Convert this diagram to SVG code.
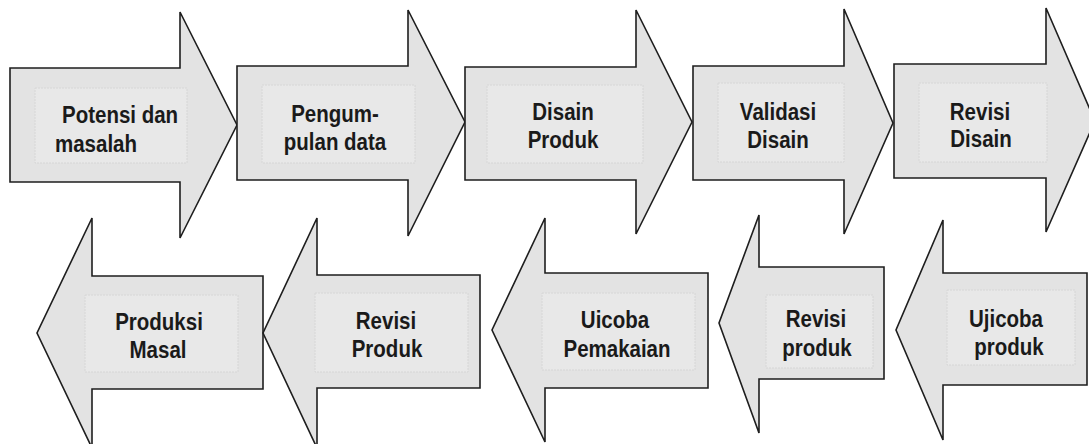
<svg xmlns="http://www.w3.org/2000/svg" width="1089" height="444" viewBox="0 0 1089 444">
<style>
.arrow{fill:#e3e3e3;stroke:#1e1e1e;stroke-width:1.6;stroke-linejoin:miter}
.inner{fill:#e8e8e8;stroke:#d6d6d6;stroke-width:1;stroke-dasharray:2 1}
.lbl{font-family:"Liberation Sans",Arial,sans-serif;font-weight:bold;font-size:20.5px;fill:#1a1a1a;text-anchor:middle}
.st{text-anchor:start}
</style>
<rect width="1089" height="444" fill="#ffffff"/>
<g id="connectors"></g>
<g id="n1">
<polygon class="arrow" points="10,68 180,68 180,12 237,125 180,238 180,182 10,182"/>
<rect class="inner" x="35" y="88" width="152" height="75"/>
<text class="lbl st" transform="matrix(1,0,0,1.15,62,123)">Potensi dan</text>
<text class="lbl st" transform="matrix(1,0,0,1.15,55,152)">masalah</text>
</g>
<g id="n2">
<polygon class="arrow" points="237,66 408,66 408,10 465,122 408,236 408,180 237,180"/>
<rect class="inner" x="262" y="85" width="153" height="78"/>
<text class="lbl" transform="matrix(1,0,0,1.15,335,122)">Pengum-</text>
<text class="lbl" transform="matrix(1,0,0,1.15,335,150)">pulan data</text>
</g>
<g id="n3">
<polygon class="arrow" points="465,67 636,67 636,10 692,122 636,234 636,180 465,180"/>
<rect class="inner" x="487" y="85" width="156" height="78"/>
<text class="lbl" transform="matrix(1,0,0,1.15,563,120)">Disain</text>
<text class="lbl" transform="matrix(1,0,0,1.15,563,148)">Produk</text>
</g>
<g id="n4">
<polygon class="arrow" points="693,66 844,66 844,9 893,123 844,234 844,180 693,180"/>
<rect class="inner" x="718" y="83" width="126" height="79"/>
<text class="lbl" transform="matrix(1,0,0,1.15,778,120)">Validasi</text>
<text class="lbl" transform="matrix(1,0,0,1.15,778,148)">Disain</text>
</g>
<g id="n5">
<polygon class="arrow" points="894,64 1046,64 1046,8 1095,121 1046,232 1046,178 894,178"/>
<rect class="inner" x="919" y="83" width="128" height="79"/>
<text class="lbl" transform="matrix(1,0,0,1.15,980,120)">Revisi</text>
<text class="lbl" transform="matrix(1,0,0,1.15,981,147)">Disain</text>
</g>
<g id="n6">
<polygon class="arrow" points="263,276 92,276 92,218 37,333 92,448 92,389 263,389"/>
<rect class="inner" x="85" y="295" width="153" height="77"/>
<text class="lbl" transform="matrix(1,0,0,1.15,159,330)">Produksi</text>
<text class="lbl" transform="matrix(1,0,0,1.15,158,358)">Masal</text>
</g>
<g id="n7">
<polygon class="arrow" points="480,275 317,275 317,218 263,333 317,448 317,388 480,388"/>
<rect class="inner" x="315" y="293" width="153" height="79"/>
<text class="lbl" transform="matrix(1,0,0,1.15,386,329)">Revisi</text>
<text class="lbl" transform="matrix(1,0,0,1.15,387,357)">Produk</text>
</g>
<g id="n8">
<polygon class="arrow" points="708,273 545,273 545,218 492,330 545,442 545,388 708,388"/>
<rect class="inner" x="542" y="293" width="153" height="77"/>
<text class="lbl" transform="matrix(1,0,0,1.15,615,328)">Uicoba</text>
<text class="lbl" transform="matrix(1,0,0,1.15,617,357)">Pemakaian</text>
</g>
<g id="n9">
<polygon class="arrow" points="884,267 759,267 759,215 719,323 759,433 759,379 884,379"/>
<rect class="inner" x="766" y="295" width="107" height="73"/>
<text class="lbl" transform="matrix(1,0,0,1.15,816,327)">Revisi</text>
<text class="lbl" transform="matrix(1,0,0,1.15,817,356)">produk</text>
</g>
<g id="n10">
<polygon class="arrow" points="1087,273 943,273 943,220 896,330 943,440 943,385 1087,385"/>
<rect class="inner" x="947" y="290" width="128" height="75"/>
<text class="lbl" transform="matrix(1,0,0,1.15,1006,327)">Ujicoba</text>
<text class="lbl" transform="matrix(1,0,0,1.15,1009,355)">produk</text>
</g>
</svg>
